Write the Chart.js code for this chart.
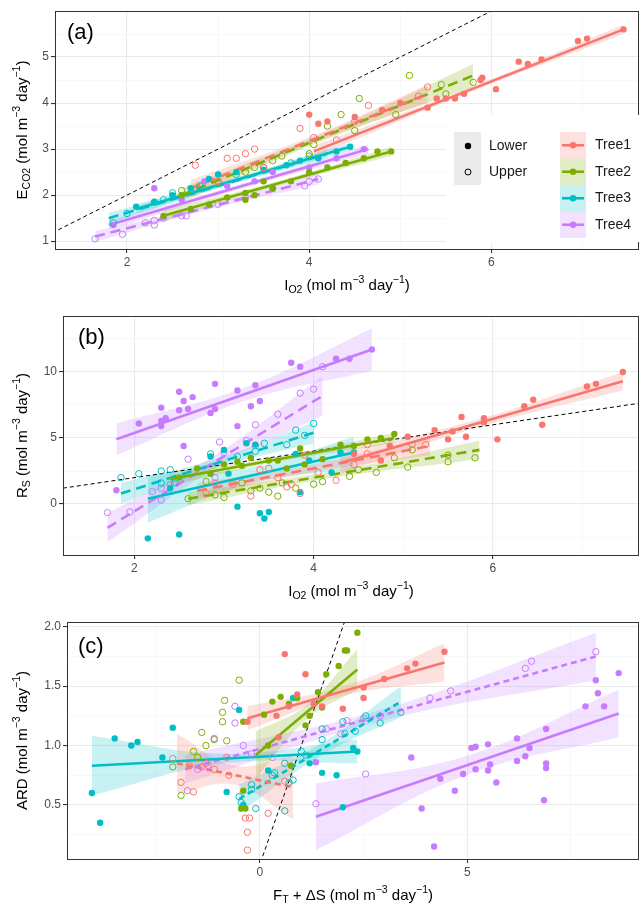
<!DOCTYPE html>
<html>
<head>
<meta charset="utf-8">
<script src="https://cdn.jsdelivr.net/npm/chart.js@4"></script>
<style>
  body { margin: 0; background: #fff; }
  canvas { position: absolute; left: 0; }
</style>
</head>
<body>
<canvas id="ca" style="top:0px"></canvas>
<canvas id="cb" style="top:300px"></canvas>
<canvas id="cc" style="top:600px"></canvas>
<script>
const trees = ['Tree1', 'Tree2', 'Tree3', 'Tree4'];
const treeColors = ['#F8766D', '#7CAE00', '#00BFC4', '#C77CFF'];
const levels = ['Lower', 'Upper'];

// panel (a): I_O2 vs E_CO2, groups in order T1L,T1U,T2L,T2U,T3L,T3U,T4L,T4U
const aPoints = [
  [[4.0,3.75],[4.1,3.55],[4.2,3.6],[4.5,3.7],[4.8,3.85],[5.0,4.0],[5.3,3.9],[5.4,4.1],[5.5,4.1],[5.6,4.1],[5.7,4.2],[5.9,4.55],[5.88,4.5],[6.05,4.3],[6.3,4.9],[6.4,4.85],[6.55,4.95],[6.95,5.35],[7.05,5.4],[7.45,5.6]],
  [[2.75,2.65],[3.1,2.8],[3.2,2.8],[3.3,2.9],[3.4,3.0],[3.9,3.45],[4.05,3.25],[4.3,3.2],[4.65,3.95],[4.5,3.6],[5.2,4.15],[5.3,4.35],[3.0,2.3],[3.5,2.6]],
  [[2.4,1.55],[2.7,1.7],[2.9,1.8],[3.1,1.95],[3.3,1.9],[3.4,2.0],[3.6,2.15],[3.8,2.3],[4.0,2.5],[4.2,2.6],[4.4,2.7],[4.6,2.8],[4.75,2.95],[4.9,2.95],[3.3,2.05],[2.6,2.0],[3.5,2.3]],
  [[2.6,2.1],[3.0,2.3],[3.3,2.5],[3.6,2.75],[3.7,2.85],[4.0,2.9],[4.05,3.1],[4.2,3.5],[4.35,3.75],[4.5,3.4],[4.55,4.1],[4.95,3.75],[5.1,4.6],[5.45,4.4],[5.5,4.2],[5.8,4.45],[3.4,2.6]],
  [[2.1,1.75],[2.3,1.85],[2.5,2.0],[2.7,2.15],[2.9,2.35],[3.0,2.45],[3.2,2.5],[3.5,2.55],[3.75,2.65],[3.9,2.75],[4.1,2.8],[4.3,2.95],[4.45,3.05]],
  [[1.85,1.4],[2.0,1.6],[2.3,1.85],[2.4,1.9],[2.5,2.05],[2.8,2.2],[3.2,2.45],[3.5,2.6],[3.8,2.7],[4.0,2.85]],
  [[2.3,2.15],[2.85,2.3],[3.4,2.3],[3.6,2.5],[4.0,2.6],[4.3,2.8],[4.6,3.0],[2.6,1.9],[3.1,2.2],[1.85,1.35]],
  [[1.65,1.05],[1.95,1.15],[2.2,1.4],[2.3,1.35],[2.3,1.45],[2.6,1.55],[2.65,1.55],[3.0,1.8],[3.3,1.95],[3.6,2.15],[3.95,2.2],[4.0,2.3],[4.1,2.35],[2.4,1.5]]
];
// fit: x0, y0, x1, y1, band half-width at start, middle, end
const aFits = [
  [4.05,2.95,7.45,5.6,0.12,0.05,0.1],
  [2.7,2.15,5.3,4.2,0.18,0.08,0.2],
  [2.4,1.55,4.9,2.95,0.12,0.05,0.1],
  [2.6,2.0,5.8,4.6,0.15,0.08,0.25],
  [2.1,1.7,4.45,3.05,0.1,0.05,0.08],
  [1.8,1.5,4.2,2.9,0.12,0.05,0.1],
  [1.8,1.35,4.65,3.0,0.1,0.05,0.1],
  [1.65,1.1,4.1,2.35,0.12,0.05,0.12]
];

// panel (b): I_O2 vs R_S
const bPoints = [
  [[5.05,5.1],[5.35,5.6],[5.5,4.9],[5.55,5.5],[5.65,6.6],[5.7,5.1],[5.9,6.2],[5.9,6.5],[6.05,4.9],[6.35,7.4],[6.45,7.9],[6.55,6.0],[7.05,8.9],[7.15,9.1],[7.45,10.0],[4.45,3.8],[4.85,4.4],[4.75,3.3]],
  [[2.8,0.8],[2.9,1.6],[3.1,1.5],[3.3,0.6],[3.4,2.6],[3.5,2.7],[3.7,1.3],[3.75,1.5],[3.85,0.8],[3.9,3.7],[4.05,2.4],[4.25,1.8],[4.45,3.0],[4.6,3.8],[4.6,4.5],[5.1,4.5],[5.25,4.5],[3.6,2.0]],
  [[2.5,2.0],[2.7,2.7],[2.85,2.3],[3.0,3.0],[3.15,3.2],[3.2,2.9],[3.3,3.5],[3.5,3.3],[3.6,3.3],[3.7,2.7],[3.85,4.2],[3.9,3.0],[4.1,3.4],[4.3,4.5],[4.6,4.9],[4.75,5.0],[4.9,5.3],[4.45,4.4]],
  [[2.6,0.4],[2.9,0.7],[3.0,0.5],[3.2,1.6],[3.3,1.0],[3.4,1.2],[3.5,0.9],[3.6,0.6],[3.65,1.6],[3.8,1.2],[4.0,1.5],[4.1,1.7],[4.4,2.1],[4.5,2.6],[4.7,2.4],[4.9,3.5],[5.05,2.8],[5.1,4.1],[5.5,3.7],[5.5,3.2],[5.8,3.5],[2.8,1.7]],
  [[2.15,-2.6],[2.5,-2.3],[2.4,1.2],[2.85,3.6],[3.0,4.1],[3.05,2.3],[3.15,-0.2],[3.25,4.6],[3.4,-0.7],[3.45,-1.1],[3.5,-0.6],[3.35,4.5],[3.8,3.8],[3.85,0.9],[4.3,3.9],[4.45,3.9],[3.95,3.3],[4.2,2.4]],
  [[1.85,2.0],[2.05,2.3],[2.3,2.5],[2.4,2.6],[2.3,1.6],[2.45,1.6],[2.85,3.8],[3.15,3.6],[3.35,4.0],[3.45,4.6],[3.7,4.5],[3.8,5.6],[3.9,5.2],[4.0,6.1]],
  [[2.05,6.1],[2.3,7.3],[2.3,6.3],[2.35,6.5],[2.3,5.9],[2.5,8.5],[2.55,7.8],[2.5,7.1],[2.6,7.2],[2.55,4.4],[2.65,8.1],[2.85,6.9],[2.9,7.2],[2.9,9.1],[3.15,8.6],[3.15,5.9],[3.3,7.4],[3.35,9.0],[3.4,7.8],[3.75,10.7],[3.85,10.4],[4.25,11.0],[4.4,11.0],[4.65,11.7],[1.8,1.05]],
  [[1.7,-0.65],[1.95,-0.6],[2.2,0.95],[2.3,1.2],[2.3,0.3],[2.4,1.5],[2.6,3.4],[2.95,4.7],[3.0,3.9],[3.25,4.8],[3.35,6.0],[3.35,4.4],[3.6,6.8],[3.85,8.4],[4.0,8.7],[4.1,10.4],[2.9,2.0]]
];
const bFits = [
  [4.3,3.1,7.45,9.3,0.8,0.3,0.7],
  [2.7,1.0,5.3,4.4,0.6,0.3,0.7],
  [2.4,1.9,4.9,5.0,0.5,0.2,0.4],
  [2.6,0.4,5.85,4.1,0.5,0.25,0.7],
  [2.15,0.4,4.45,3.9,1.8,0.6,1.2],
  [1.85,0.8,4.0,5.4,0.8,0.35,0.8],
  [1.8,4.9,4.65,11.7,1.2,0.5,1.6],
  [1.7,-1.8,4.1,8.2,1.1,0.5,1.5]
];

// panel (c): F_T + dS vs ARD
const cPoints = [
  [[-0.3,1.2],[0.4,1.25],[0.6,1.77],[0.9,1.43],[0.45,1.07],[1.1,1.6],[1.3,1.35],[1.5,1.33],[2.0,1.31],[2.5,1.49],[2.5,1.4],[3.0,1.56],[3.55,1.65],[3.75,1.69],[4.45,1.79],[0.7,1.33]],
  [[-2.1,0.89],[-1.9,0.69],[-1.6,0.61],[-1.7,0.83],[-1.4,0.82],[-1.1,0.8],[-0.75,0.75],[-0.35,0.39],[-0.3,0.27],[-0.3,0.12],[-0.25,0.39],[0.2,0.43],[0.6,0.7],[-0.8,0.9],[-1.3,0.85]],
  [[-0.45,0.47],[-0.4,0.62],[-0.35,0.47],[0.1,1.26],[0.2,1.0],[0.3,1.37],[0.5,1.41],[0.7,1.35],[0.9,1.4],[1.1,1.17],[1.2,1.25],[1.4,1.45],[1.5,1.32],[1.6,1.6],[1.9,1.67],[2.05,1.8],[2.1,1.8],[2.35,1.95],[0.75,0.83],[-0.4,1.2]],
  [[-2.1,0.82],[-1.9,0.58],[-1.6,0.95],[-1.4,1.11],[-1.3,1.0],[-1.1,1.05],[-0.9,1.2],[-0.9,1.28],[-0.85,1.38],[-0.5,1.55],[-0.8,1.04],[-1.5,0.9]],
  [[-4.05,0.6],[-3.85,0.35],[-3.5,1.06],[-3.1,1.0],[-2.95,1.03],[-2.35,0.9],[-2.1,1.15],[-0.8,0.61],[-0.5,1.3],[-0.4,0.5],[0.8,1.4],[1.5,0.77],[1.85,0.75],[2.0,0.48],[2.25,0.98],[2.35,0.95],[1.2,0.85],[0.2,0.79]],
  [[-0.5,0.57],[-0.45,0.52],[-0.2,0.67],[-0.2,0.63],[-0.1,0.47],[0.3,0.75],[0.35,0.77],[0.6,0.45],[0.6,0.85],[0.7,0.69],[0.8,0.71],[1.0,0.95],[1.5,1.05],[1.5,1.14],[2.0,1.2],[2.05,1.1],[2.3,1.12],[2.55,1.25],[2.9,1.19],[3.4,1.28],[1.1,0.92]],
  [[1.35,0.86],[3.65,0.9],[3.9,0.47],[4.2,0.15],[4.35,0.72],[4.7,0.62],[4.9,0.76],[5.1,0.98],[5.2,0.99],[5.2,0.8],[5.5,1.01],[5.5,0.79],[5.55,0.84],[5.7,0.69],[6.2,1.06],[6.2,0.87],[6.4,0.91],[6.5,0.98],[6.9,1.14],[6.9,0.85],[6.9,0.81],[6.85,0.54],[7.85,1.33],[8.1,1.55],[8.15,1.44],[8.3,1.33],[8.65,1.61]],
  [[-1.75,0.62],[-1.5,0.8],[-1.1,1.06],[-0.6,1.33],[-0.6,1.19],[-0.4,1.0],[-0.2,0.93],[0.3,0.9],[1.35,0.51],[1.6,1.14],[2.1,1.21],[2.5,1.23],[2.55,0.76],[2.9,1.25],[4.1,1.4],[4.6,1.46],[6.4,1.65],[6.55,1.71],[8.1,1.79],[1.95,1.1],[-1.25,0.83]]
];
const cFits = [
  [-0.3,1.23,4.45,1.7,0.1,0.04,0.16],
  [-2.0,0.85,0.8,0.65,0.25,0.08,0.27],
  [-0.1,0.92,2.35,1.64,0.2,0.06,0.17],
  null,
  [-4.05,0.83,2.35,0.95,0.25,0.04,0.1],
  [-0.5,0.55,3.4,1.37,0.12,0.05,0.13],
  [1.35,0.4,8.65,1.27,0.28,0.08,0.2],
  [-1.8,0.8,8.1,1.75,0.12,0.05,0.2]
];

const FONT = '"Liberation Sans", Arial, sans-serif';

function alpha(hex, a) {
  const n = parseInt(hex.slice(1), 16);
  return `rgba(${n >> 16},${(n >> 8) & 255},${n & 255},${a})`;
}

function buildDatasets(points, fits, dash) {
  const ds = [];
  points.forEach((pts, g) => {
    const col = treeColors[g >> 1];
    const upper = g % 2 === 1;
    ds.push({
      type: 'scatter', order: 0,
      data: pts.map(p => ({ x: p[0], y: p[1] })),
      pointRadius: 3.2,
      pointBorderWidth: upper ? 1 : 0,
      pointBorderColor: col,
      pointBackgroundColor: upper ? 'rgba(255,255,255,0)' : col
    });
    const f = fits[g];
    if (!f) return;
    const [x0, y0, x1, y1, w0, wm, w1] = f;
    const xm = (x0 + x1) / 2, ym = (y0 + y1) / 2;
    ds.push({
      type: 'line', order: 2,
      data: [{ x: x0, y: y0 + w0 }, { x: xm, y: ym + wm }, { x: x1, y: y1 + w1 }],
      borderWidth: 0, pointRadius: 0, tension: 0.4, fill: false
    });
    ds.push({
      type: 'line', order: 2,
      data: [{ x: x0, y: y0 - w0 }, { x: xm, y: ym - wm }, { x: x1, y: y1 - w1 }],
      borderWidth: 0, pointRadius: 0, tension: 0.4,
      fill: '-1', backgroundColor: alpha(col, 0.22)
    });
    ds.push({
      type: 'line', order: 1,
      data: [{ x: x0, y: y0 }, { x: x1, y: y1 }],
      borderColor: col, borderWidth: 2.6, pointRadius: 0,
      borderDash: upper ? dash : []
    });
  });
  // 1:1 line
  ds.push({
    type: 'line', order: 1,
    data: [{ x: -10, y: -10 }, { x: 20, y: 20 }],
    borderColor: '#000', borderWidth: 1, borderDash: [4, 3], pointRadius: 0
  });
  return ds;
}

function drawRich(ctx, parts, x, y, rotate) {
  const base = '15px ' + FONT, small = '10.5px ' + FONT;
  ctx.save();
  let w = 0;
  parts.forEach(p => { ctx.font = p[1] === 'n' ? base : small; w += ctx.measureText(p[0]).width; });
  ctx.translate(x, y);
  if (rotate) ctx.rotate(-Math.PI / 2);
  ctx.fillStyle = '#000';
  ctx.textBaseline = 'middle';
  let cx = -w / 2;
  parts.forEach(p => {
    ctx.font = p[1] === 'n' ? base : small;
    const dy = p[1] === 'b' ? 4 : p[1] === 'p' ? -6 : 0;
    ctx.fillText(p[0], cx, dy);
    cx += ctx.measureText(p[0]).width;
  });
  ctx.restore();
}

const unit = [[' (mol m', 'n'], ['−3', 'p'], [' day', 'n'], ['−1', 'p'], [')', 'n']];

function makeChart(id, h, area, xr, yr, xTicks, yTicks, xMajor, yMajor, fmtY, points, fits, dash, xTitle, yTitle, label, extra) {
  const cv = document.getElementById(id);
  cv.width = 644; cv.height = h;
  cv.style.width = '644px'; cv.style.height = h + 'px';
  const isMajor = (v, arr) => arr.some(m => Math.abs(m - v) < 1e-6);
  const axis = (min, max, ticks, majors, fmt) => ({
    type: 'linear', min, max,
    afterBuildTicks: s => { s.ticks = ticks.map(v => ({ value: v })); },
    ticks: {
      color: '#4d4d4d', font: { family: FONT, size: 12 }, padding: 2,
      autoSkip: false, maxRotation: 0,
      callback: v => isMajor(v, majors) ? fmt(v) : ''
    },
    grid: {
      color: c => isMajor(c.tick.value, majors) ? '#ebebeb' : '#f4f4f4',
      lineWidth: c => isMajor(c.tick.value, majors) ? 1.1 : 0.6,
      tickColor: c => isMajor(c.tick.value, majors) ? '#333' : 'rgba(0,0,0,0)',
      tickLength: 4
    },
    border: { display: false }
  });
  const x = axis(xr[0], xr[1], xTicks, xMajor, v => String(v));
  x.afterFit = s => { s.height = h - area[3]; };
  const y = axis(yr[0], yr[1], yTicks, yMajor, fmtY);
  y.afterFit = s => { s.width = area[0]; };
  const deco = {
    id: 'deco',
    afterDraw(chart) {
      const ctx = chart.ctx, a = chart.chartArea;
      ctx.save();
      ctx.strokeStyle = '#333'; ctx.lineWidth = 1;
      ctx.strokeRect(a.left + 0.5, a.top + 0.5, a.right - a.left - 1, a.bottom - a.top);
      ctx.fillStyle = '#000';
      ctx.font = '22px ' + FONT;
      ctx.textBaseline = 'middle';
      ctx.fillText(label[0], label[1], label[2]);
      ctx.restore();
      drawRich(ctx, xTitle, (a.left + a.right) / 2, a.bottom + 37, false);
      drawRich(ctx, yTitle, 23, (a.top + a.bottom) / 2, true);
      if (extra) extra(chart);
    }
  };
  return new Chart(cv, {
    data: { datasets: buildDatasets(points, fits, dash) },
    options: {
      responsive: false, animation: false,
      layout: { padding: { left: 0, right: 1, top: area[1], bottom: 0 } },
      scales: { x, y },
      plugins: { legend: { display: false }, tooltip: { enabled: false } }
    },
    plugins: [deco]
  });
}

function legendA(chart) {
  const ctx = chart.ctx;
  ctx.save();
  ctx.fillStyle = '#fff';
  ctx.fillRect(446, 115, 195, 127);
  ctx.fillStyle = '#ebebeb';
  ctx.fillRect(454, 132, 27, 53);
  ctx.fillStyle = '#000';
  ctx.beginPath(); ctx.arc(468, 146, 3.2, 0, 2 * Math.PI); ctx.fill();
  ctx.strokeStyle = '#000'; ctx.lineWidth = 1;
  ctx.beginPath(); ctx.arc(468, 172, 3, 0, 2 * Math.PI); ctx.stroke();
  ctx.font = '14px ' + FONT; ctx.textBaseline = 'middle'; ctx.fillStyle = '#1a1a1a';
  levels.forEach((l, i) => ctx.fillText(l, 489, 146 + i * 26.5));
  trees.forEach((t, i) => {
    const top = 132 + i * 26.5, mid = top + 13.25, col = treeColors[i];
    ctx.fillStyle = alpha(col, 0.22);
    ctx.fillRect(560, top, 26, 26.5);
    ctx.strokeStyle = col; ctx.lineWidth = 2.6;
    ctx.beginPath(); ctx.moveTo(562, mid); ctx.lineTo(584, mid); ctx.stroke();
    ctx.fillStyle = col;
    ctx.beginPath(); ctx.arc(573, mid, 3.2, 0, 2 * Math.PI); ctx.fill();
    ctx.fillStyle = '#1a1a1a';
    ctx.fillText(t, 595, mid);
  });
  ctx.restore();
}

const ioTitle = [['I', 'n'], ['O2', 'b']].concat(unit);

makeChart('ca', 300, [55, 11, 643, 249], [1.21, 7.62], [0.83, 6.0],
  [2, 3, 4, 5, 6, 7], [1, 1.5, 2, 2.5, 3, 3.5, 4, 4.5, 5, 5.5],
  [2, 4, 6], [1, 2, 3, 4, 5], v => String(v),
  aPoints, aFits, [10, 6], ioTitle, [['E', 'n'], ['CO2', 'b']].concat(unit),
  ['(a)', 67, 33], legendA);

makeChart('cb', 300, [63, 16, 643, 255], [1.204, 7.63], [-3.86, 14.24],
  [2, 3, 4, 5, 6, 7], [-2.5, 0, 2.5, 5, 7.5, 10, 12.5],
  [2, 4, 6], [0, 5, 10], v => String(v),
  bPoints, bFits, [10, 6], ioTitle, [['R', 'n'], ['S', 'b']].concat(unit),
  ['(b)', 78, 38], null);

makeChart('cc', 308, [67, 22, 643, 259], [-4.65, 9.14], [0.045, 2.04],
  [-2.5, 0, 2.5, 5, 7.5], [0.25, 0.5, 0.75, 1, 1.25, 1.5, 1.75, 2],
  [0, 5], [0.5, 1, 1.5, 2], v => v.toFixed(1),
  cPoints, cFits, [6, 4], [['F', 'n'], ['T', 'b'], [' + ΔS', 'n']].concat(unit),
  [['ARD', 'n']].concat(unit), ['(c)', 78, 47], null);
</script>
</body>
</html>
